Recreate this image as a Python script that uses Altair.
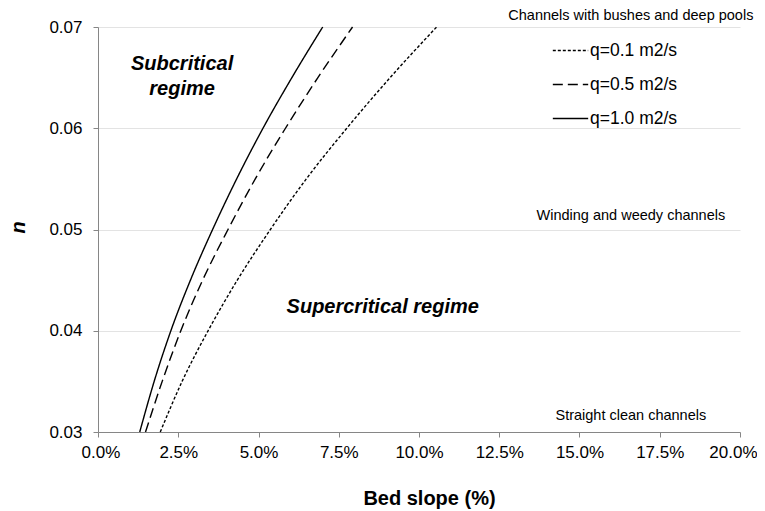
import altair as alt
import pandas as pd

n_vals = [0.03, 0.035, 0.04, 0.045, 0.05, 0.055, 0.06, 0.065, 0.07]
slope_q01 = [0.0194, 0.0262, 0.0343, 0.0434, 0.0537, 0.0649, 0.0775, 0.0910, 0.1055]
slope_q05 = [0.0148, 0.0200, 0.0258, 0.0326, 0.0405, 0.0490, 0.0584, 0.0685, 0.0793]
slope_q10 = [0.0130, 0.0175, 0.0227, 0.0288, 0.0357, 0.0432, 0.0514, 0.0604, 0.0700]
series_names = ["q=0.1 m2/s", "q=0.5 m2/s", "q=1.0 m2/s"]

x_ticks = [0, 0.025, 0.05, 0.075, 0.1, 0.125, 0.15, 0.175, 0.2]
y_ticks = [0.03, 0.04, 0.05, 0.06, 0.07]

channel_labels = ["Channels with bushes and deep pools", "Winding and weedy channels", "Straight clean channels"]
channel_x = [0.166, 0.166, 0.166]
channel_y = [0.07106, 0.0513, 0.0316]

regime_labels = ["Subcritical\nregime", "Supercritical regime"]
regime_x = [0.0262, 0.0887]
regime_y = [0.06632, 0.04232]

rows = []
for name, vals in zip(series_names, [slope_q01, slope_q05, slope_q10]):
    for n, s in zip(n_vals, vals):
        rows.append({"series": name, "n": n, "slope": s})
df = pd.DataFrame(rows)

df_chan = pd.DataFrame({"x": channel_x, "y": channel_y, "label": channel_labels})
df_reg = pd.DataFrame({"x": regime_x, "y": regime_y, "label": regime_labels})

FONT = "Liberation Sans"

xscale = alt.Scale(domain=[0, 0.2], nice=False, zero=False)
yscale = alt.Scale(domain=[0.03, 0.07], nice=False, zero=False)

lines = alt.Chart(df).mark_line(color="black", strokeWidth=1.4, clip=False,
                                interpolate="monotone").encode(
    x=alt.X("slope:Q", scale=xscale,
            axis=alt.Axis(values=x_ticks, format=".1%", title="Bed slope (%)",
                          grid=False, domainColor="#868686", tickColor="#868686",
                          tickSize=5, labelPadding=7, labelFontSize=17,
                          labelFlush=True, labelFlushOffset=17, labelOverlap=False,
                          labelColor="black", labelFont=FONT,
                          titleFont=FONT, titleFontSize=20, titleFontWeight="bold",
                          titleColor="black", titleX=331, titleY=66,
                          titleBaseline="middle")),
    y=alt.Y("n:Q", scale=yscale,
            axis=alt.Axis(values=y_ticks, format=".2f", title="n",
                          grid=True, gridColor="#e3e3e3", gridWidth=1,
                          domainColor="#868686", tickColor="#868686",
                          tickSize=5, labelPadding=11, labelFontSize=17,
                          labelFlush=False, labelOverlap=False,
                          labelColor="black", labelFont=FONT,
                          titleFont=FONT, titleFontSize=20, titleFontWeight="bold",
                          titleFontStyle="italic", titleColor="black",
                          titleX=-80, titleY=200, titleAngle=270,
                          titleAlign="center", titleBaseline="middle")),
    strokeDash=alt.StrokeDash("series:N",
                              scale=alt.Scale(domain=series_names,
                                              range=[[3, 2], [10, 5], [1, 0]]),
                              legend=alt.Legend(title=None, orient="none",
                                                legendX=454, legendY=5,
                                                symbolType="stroke",
                                                symbolSize=1250,
                                                symbolStrokeColor="black",
                                                symbolStrokeWidth=1.3,
                                                labelFontSize=17.5, labelFont=FONT,
                                                labelColor="black",
                                                labelOffset=1, rowPadding=7,
                                                padding=0)),
    order=alt.Order("n:Q"),
)

chan = alt.Chart(df_chan).mark_text(font=FONT, fontSize=14.5, color="black",
                                    align="center", baseline="middle").encode(
    x=alt.X("x:Q", scale=xscale), y=alt.Y("y:Q", scale=yscale), text="label:N")

reg = alt.Chart(df_reg).mark_text(font=FONT, fontSize=20, fontWeight="bold",
                                  fontStyle="italic", color="black",
                                  align="center", baseline="middle",
                                  lineBreak="\n", lineHeight=25).encode(
    x=alt.X("x:Q", scale=xscale), y=alt.Y("y:Q", scale=yscale), text="label:N")

chart = alt.layer(lines, chan, reg).properties(
    width=642, height=405,
    autosize=alt.AutoSizeParams(type="none"),
    padding={"left": 90, "top": 19, "right": 17, "bottom": 79},
    background="white",
).configure_view(stroke=None)

chart.save("out.html", embed_options={"renderer": "svg", "actions": False})
